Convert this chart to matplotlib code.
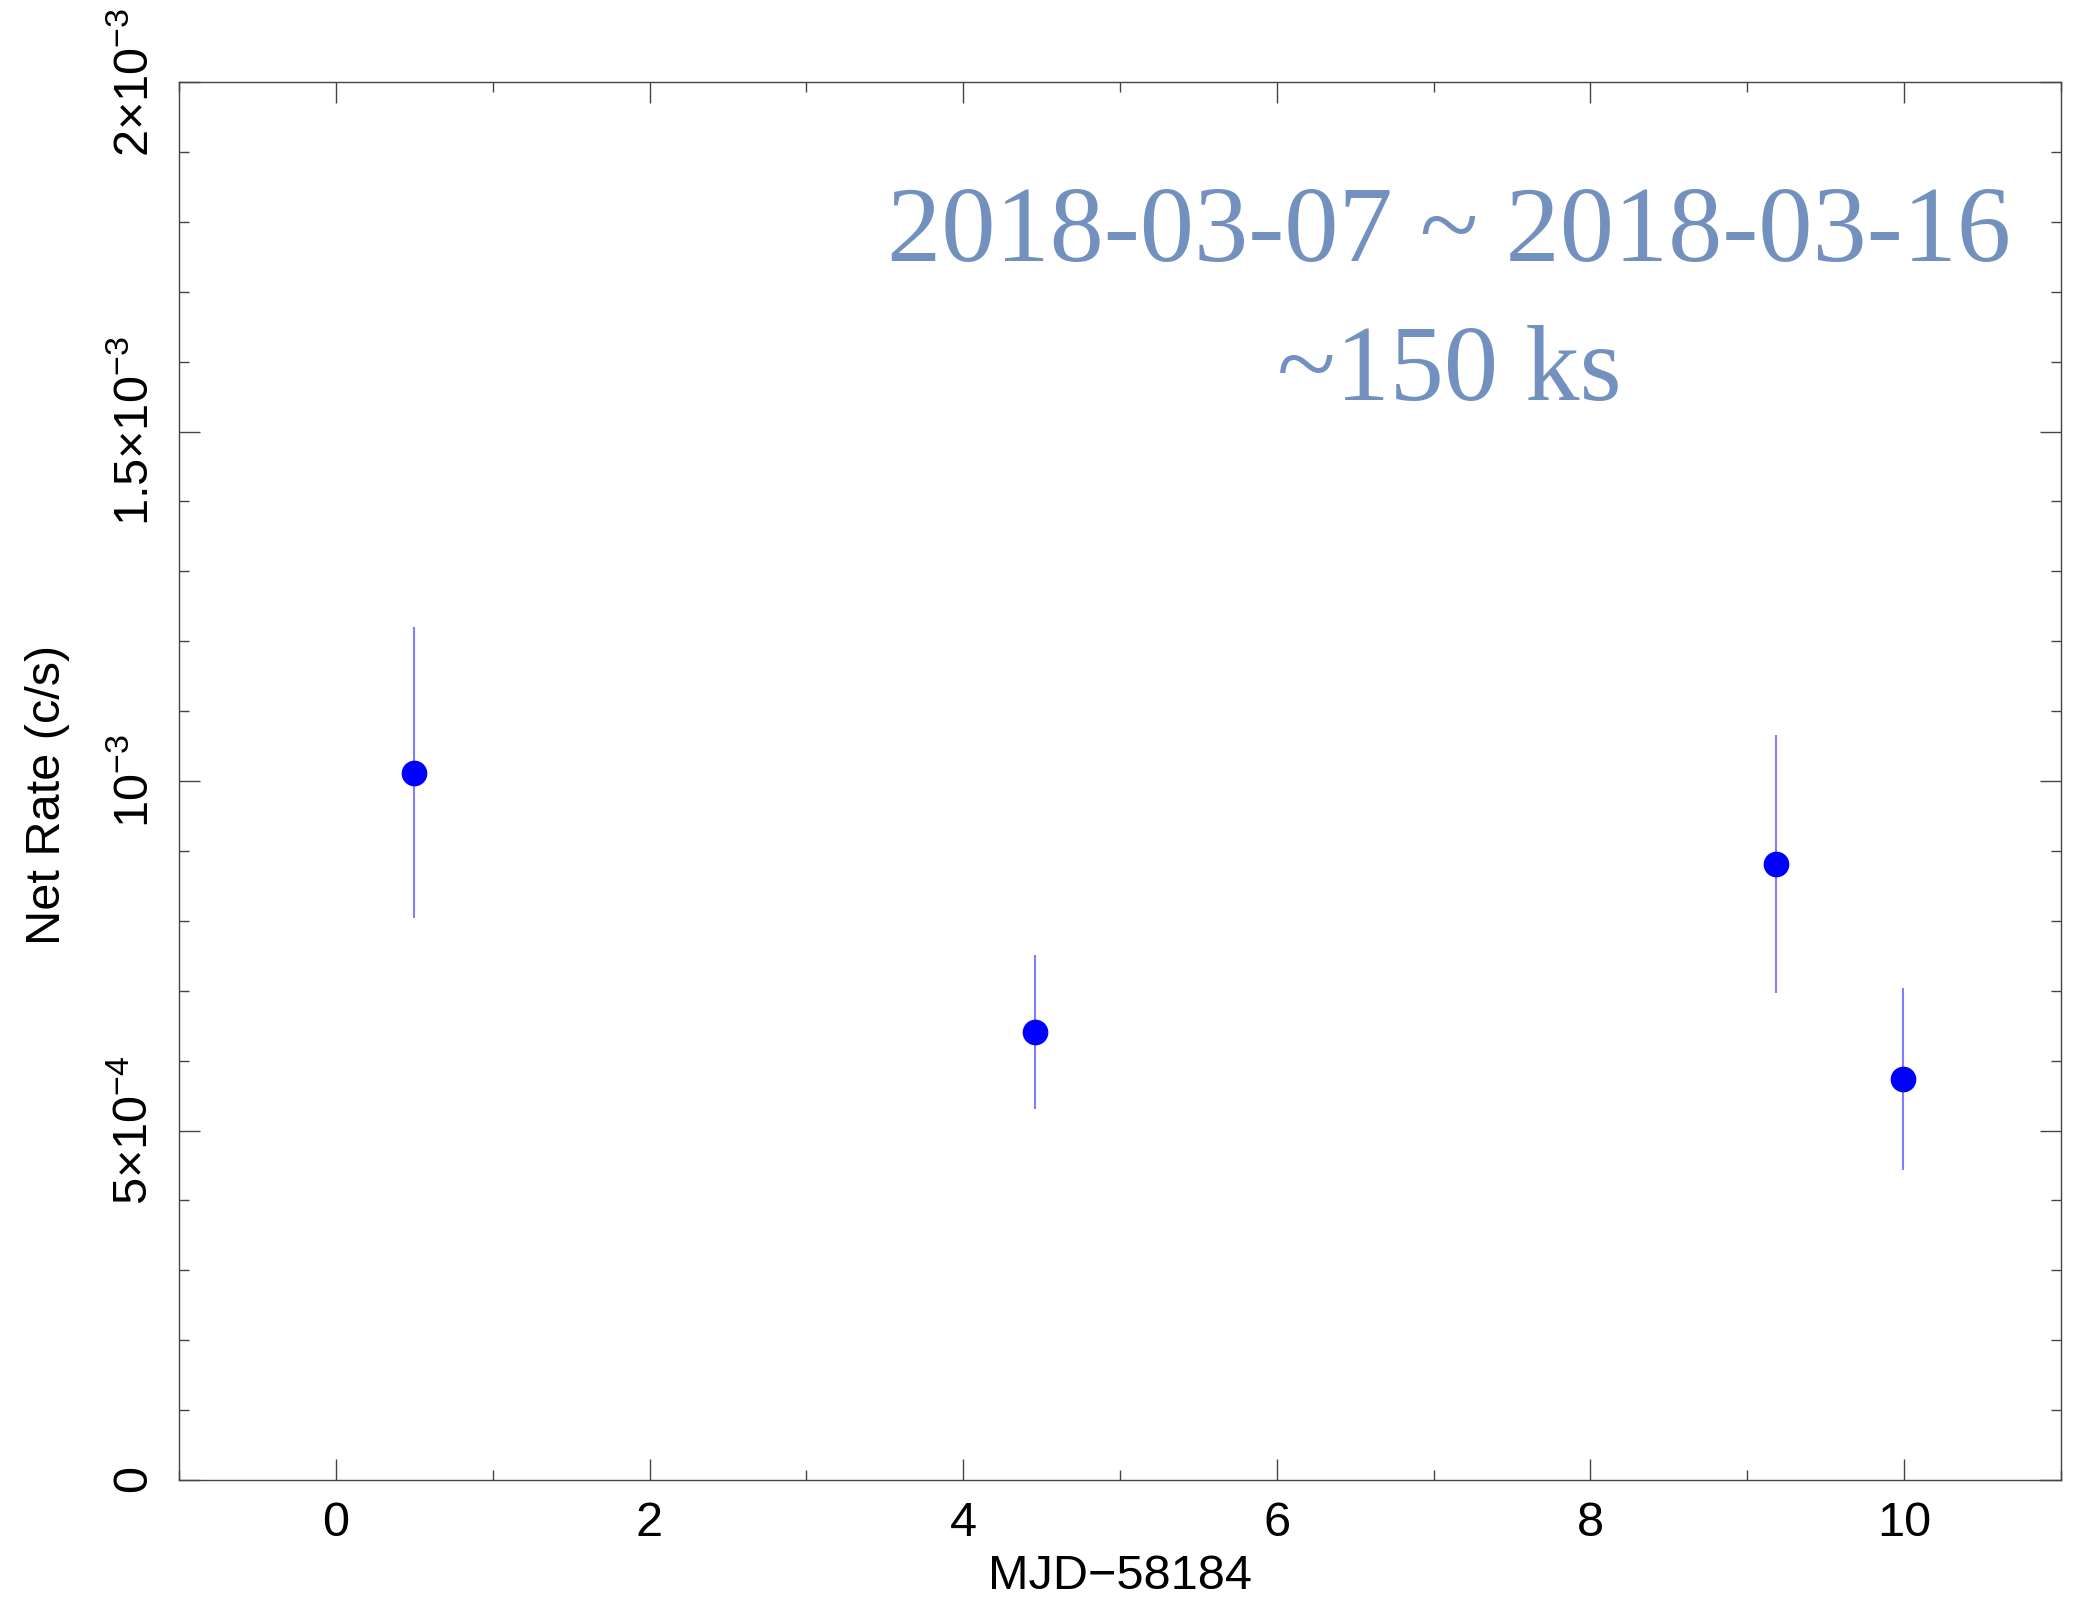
import matplotlib
matplotlib.use("Agg")
import matplotlib.pyplot as plt
from matplotlib.ticker import MultipleLocator, FixedLocator, FixedFormatter

# ---- data ----
mjd = [0.50, 4.46, 9.18, 9.99]
rate = [1.012e-3, 0.641e-3, 0.881e-3, 0.574e-3]
rate_err = [0.208e-3, 0.110e-3, 0.185e-3, 0.130e-3]

y_ticks = [0.0, 5e-4, 1e-3, 1.5e-3, 2e-3]
y_tick_labels = [r"$\mathregular{0}$",
                 r"$\mathregular{5{\times}10^{-4}}$",
                 r"$\mathregular{10^{-3}}$",
                 r"$\mathregular{1.5{\times}10^{-3}}$",
                 r"$\mathregular{2{\times}10^{-3}}$"]
x_ticks = [0, 2, 4, 6, 8, 10]

x_label = "MJD\u221258184"
y_label = "Net Rate (c/s)"
note_line1 = "2018-03-07 ~ 2018-03-16"
note_line2 = "~150 ks"

# ---- style ----
plt.rcParams['font.family'] = ['Liberation Sans', 'DejaVu Sans']
plt.rcParams['mathtext.fontset'] = 'custom'
plt.rcParams['mathtext.rm'] = 'Liberation Sans'
plt.rcParams['mathtext.it'] = 'Liberation Sans:italic'
plt.rcParams['mathtext.bf'] = 'Liberation Sans:bold'

axis_col = '#444444'
fs = 35

fig = plt.figure(figsize=(20.78, 15.98), dpi=100)
ax = fig.add_axes([179/2078, 1 - 1480/1598, (2061-179)/2078, (1480-82)/1598])

ax.errorbar(mjd, rate, yerr=rate_err, fmt='none', ecolor='#7f7fff',
            elinewidth=1.5, capsize=0, zorder=2)
ax.plot(mjd, rate, 'o', color='#0000ff', markersize=18.5,
        markeredgewidth=0, zorder=3)

ax.set_xlim(-1, 11)
ax.set_ylim(0, 2e-3)

ax.xaxis.set_major_locator(FixedLocator(x_ticks))
ax.xaxis.set_minor_locator(MultipleLocator(1))
ax.yaxis.set_major_locator(FixedLocator(y_ticks))
ax.yaxis.set_major_formatter(FixedFormatter(y_tick_labels))
ax.yaxis.set_minor_locator(MultipleLocator(1e-4))

for s in ax.spines.values():
    s.set_color(axis_col)
    s.set_linewidth(1.0)

ax.tick_params(which='both', direction='in', top=True, right=True,
               color=axis_col, width=1.0, labelsize=fs, pad=15)
ax.tick_params(which='major', length=15)
ax.tick_params(which='minor', length=7.5)
ax.tick_params(axis='y', labelrotation=90)
for lab in ax.get_yticklabels():
    lab.set_va('center')

ax.set_xlabel(x_label, fontsize=fs)
ax.set_ylabel(y_label, fontsize=fs)
ax.xaxis.set_label_coords(0.5, -0.053)
ax.yaxis.set_label_coords(-0.058, 0.49)

note_col = '#7391be'
fig.text(1449/2078, 1 - 261/1598, note_line1, ha='center', va='baseline',
         fontsize=78, color=note_col, family=['Liberation Serif', 'DejaVu Serif'])
fig.text(1449/2078, 1 - 400/1598, note_line2, ha='center', va='baseline',
         fontsize=78, color=note_col, family=['Liberation Serif', 'DejaVu Serif'])

fig.savefig('out.png', dpi=100)
